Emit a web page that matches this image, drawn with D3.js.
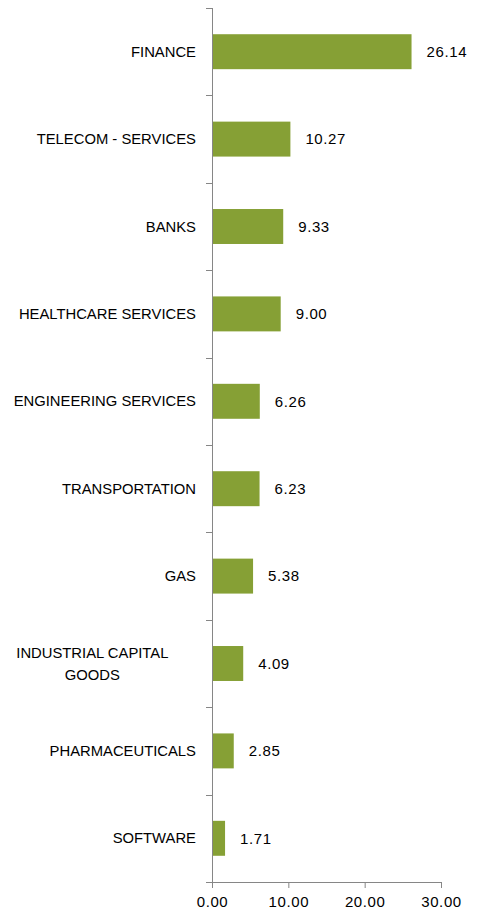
<!DOCTYPE html>
<meta charset="utf-8" />
<style>
  body { margin: 0; background: #fff; }
  text { font-family: "Liberation Sans", Arial, sans-serif; fill: #000; }
</style>
<body>
  <div id="my_dataviz"></div>
  <script src="https://d3js.org/d3.v7.min.js"></script>
  <script>
    // sectors (top to bottom) and their weights
    var sectors = [
      ["FINANCE"],
      ["TELECOM - SERVICES"],
      ["BANKS"],
      ["HEALTHCARE SERVICES"],
      ["ENGINEERING SERVICES"],
      ["TRANSPORTATION"],
      ["GAS"],
      ["INDUSTRIAL CAPITAL", "GOODS"],
      ["PHARMACEUTICALS"],
      ["SOFTWARE"]
    ];
    var weights = [26.14, 10.27, 9.33, 9.0, 6.26, 6.23, 5.38, 4.09, 2.85, 1.71];
    var xTicks = [0, 10, 20, 30];

    var margin = { top: 8, right: 43, bottom: 33, left: 212 },
      width = 484 - margin.left - margin.right,
      height = 915 - margin.top - margin.bottom;

    var svg = d3
      .select("#my_dataviz")
      .append("svg")
      .attr("width", 484)
      .attr("height", 915)
      .append("g")
      .attr("transform", "translate(" + margin.left + "," + margin.top + ")");

    var data = sectors.map(function(s, i) {
      return { key: i, label: s, value: weights[i] };
    });

    var x = d3.scaleLinear().domain([0, 30]).range([0, width]);
    var y = d3
      .scaleBand()
      .domain(data.map(function(d) { return d.key; }))
      .range([0, height])
      .paddingInner(0.6)
      .paddingOuter(0.3);

    // bars
    svg
      .selectAll(".bar")
      .data(data)
      .enter()
      .append("rect")
      .attr("class", "bar")
      .attr("x", 0)
      .attr("y", function(d) { return y(d.key); })
      .attr("width", function(d) { return x(d.value); })
      .attr("height", y.bandwidth())
      .attr("fill", "#86a035");

    // value labels
    svg
      .selectAll(".val")
      .data(data)
      .enter()
      .append("text")
      .attr("class", "val")
      .attr("x", function(d) { return x(d.value) + 15; })
      .attr("y", function(d) { return y(d.key) + y.bandwidth() / 2; })
      .attr("dy", "0.35em")
      .style("font-size", "15px")
      .style("letter-spacing", "0.6px")
      .text(function(d) { return d.value.toFixed(2); });

    // y axis line + ticks at category boundaries
    var axisColor = "#868686";
    svg
      .append("line")
      .attr("x1", 0.5).attr("x2", 0.5)
      .attr("y1", 0).attr("y2", height)
      .attr("stroke", axisColor);
    var step = height / data.length;
    svg
      .selectAll(".ytick")
      .data(d3.range(data.length + 1))
      .enter()
      .append("line")
      .attr("x1", -6).attr("x2", 0.5)
      .attr("y1", function(i) { return Math.round(i * step) + 0.5; })
      .attr("y2", function(i) { return Math.round(i * step) + 0.5; })
      .attr("stroke", axisColor);

    // category labels (multi-line ones centred as a block)
    var labels = svg
      .selectAll(".cat")
      .data(data)
      .enter()
      .append("text")
      .attr("class", "cat")
      .style("font-size", "14.8px")
      .attr("text-anchor", "middle")
      .attr("y", function(d) { return y(d.key) + y.bandwidth() / 2; });

    labels.each(function(d) {
      var t = d3.select(this);
      var n = d.label.length;
      d.label.forEach(function(line, j) {
        t.append("tspan")
          .attr("dy", j === 0 ? (5 - (n - 1) * 11) + "px" : "22px")
          .text(line);
      });
      var w = this.getBBox().width;
      t.selectAll("tspan").attr("x", -16 - w / 2);
    });

    // x axis
    var xAxis = svg
      .append("g")
      .attr("transform", "translate(0," + height + ")")
      .call(
        d3.axisBottom(x)
          .tickValues(xTicks)
          .tickSize(6)
          .tickSizeOuter(0)
          .tickFormat(d3.format(".2f"))
      );
    xAxis.select(".domain").attr("stroke", axisColor);
    xAxis.selectAll(".tick line").attr("stroke", axisColor);
    xAxis
      .selectAll(".tick text")
      .attr("y", 14)
      .style("font-size", "15px")
      .style("letter-spacing", "0.6px")
      .style("font-family", "Liberation Sans, Arial, sans-serif")
      .attr("fill", "#000");
  </script>
</body>
